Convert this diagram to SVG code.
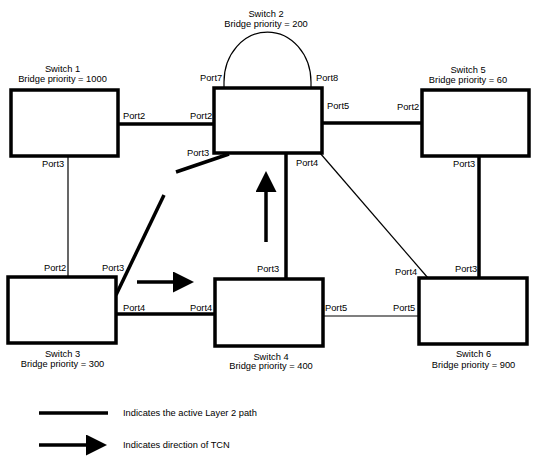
<svg xmlns="http://www.w3.org/2000/svg" width="539" height="462" viewBox="0 0 539 462">
<style>
text{font-family:"Liberation Sans",Arial,sans-serif;font-size:9.3px;fill:#000}
.c{text-anchor:middle}
.box{fill:#fff;stroke:#000;stroke-width:3.5}
.thick{stroke:#000;stroke-width:3.5;fill:none}
.thin{stroke:#000;stroke-width:1.2;fill:none}
</style>
<defs>
<marker id="ah" markerWidth="6" markerHeight="6" refX="0" refY="3" orient="auto" markerUnits="strokeWidth">
<path d="M0,0 L6,3 L0,6 Z" fill="#000"/>
</marker>
</defs>
<rect width="539" height="462" fill="#fff"/>
<g id="connectors">
<path class="thin" d="M224,88 L224,82 A43.5,50 0 0 1 311,82 L311,88"/>
<line class="thick" x1="118" y1="124" x2="214" y2="124"/>
<line class="thick" x1="322" y1="123" x2="422" y2="123"/>
<line class="thin" x1="68" y1="156" x2="68" y2="277"/>
<line class="thick" x1="479" y1="156" x2="479" y2="278"/>
<line class="thick" x1="286" y1="153" x2="286" y2="279"/>
<line class="thin" x1="320" y1="153" x2="428" y2="278"/>
<line class="thick" x1="116" y1="314" x2="215" y2="314"/>
<line class="thin" x1="323" y1="316" x2="419" y2="316"/>
<line class="thick" x1="116" y1="295" x2="164" y2="195"/>
<line class="thick" x1="176" y1="172" x2="229" y2="154"/>
<line stroke="#000" stroke-width="3.5" x1="266" y1="242" x2="266" y2="192" marker-end="url(#ah)"/>
<line stroke="#000" stroke-width="3.5" x1="137" y1="282" x2="173" y2="282" marker-end="url(#ah)"/>
</g>
<g id="switch1">
<rect class="box" x="11" y="90" width="107" height="66"/>
<text class="c" x="62.5" y="72">Switch 1</text>
<text class="c" x="62.5" y="82">Bridge priority = 1000</text>
<text x="123" y="119">Port2</text>
<text x="42" y="167">Port3</text>
</g>
<g id="switch2">
<rect class="box" x="214" y="88" width="108" height="65"/>
<text class="c" x="266" y="17">Switch 2</text>
<text class="c" x="266" y="27">Bridge priority = 200</text>
<text x="190" y="119">Port2</text>
<text x="200" y="81">Port7</text>
<text x="316" y="81">Port8</text>
<text x="187" y="156">Port3</text>
<text x="327" y="109">Port5</text>
<text x="296" y="166">Port4</text>
</g>
<g id="switch5">
<rect class="box" x="422" y="90" width="107" height="66"/>
<text class="c" x="468" y="73">Switch 5</text>
<text class="c" x="468" y="83">Bridge priority = 60</text>
<text x="397" y="110">Port2</text>
<text x="453" y="167">Port3</text>
</g>
<g id="switch3">
<rect class="box" x="8" y="277" width="108" height="66"/>
<text class="c" x="62.5" y="357">Switch 3</text>
<text class="c" x="62.5" y="367">Bridge priority = 300</text>
<text x="44" y="271">Port2</text>
<text x="102" y="271">Port3</text>
<text x="123" y="311">Port4</text>
</g>
<g id="switch4">
<rect class="box" x="215" y="279" width="108" height="67"/>
<text class="c" x="271" y="360">Switch 4</text>
<text class="c" x="271" y="369">Bridge priority = 400</text>
<text x="190" y="311">Port4</text>
<text x="257" y="272">Port3</text>
<text x="325" y="311">Port5</text>
</g>
<g id="switch6">
<rect class="box" x="419" y="278" width="108" height="66"/>
<text class="c" x="473.5" y="357">Switch 6</text>
<text class="c" x="473.5" y="368">Bridge priority = 900</text>
<text x="395" y="275">Port4</text>
<text x="455" y="272">Port3</text>
<text x="393" y="311">Port5</text>
</g>
<g id="legend">
<line class="thick" x1="39" y1="413" x2="108" y2="413"/>
<text x="123" y="416">Indicates the active Layer 2 path</text>
<line stroke="#000" stroke-width="3.5" x1="39" y1="445" x2="86" y2="445" marker-end="url(#ah)"/>
<text x="123" y="448">Indicates direction of TCN</text>
</g>
</svg>
